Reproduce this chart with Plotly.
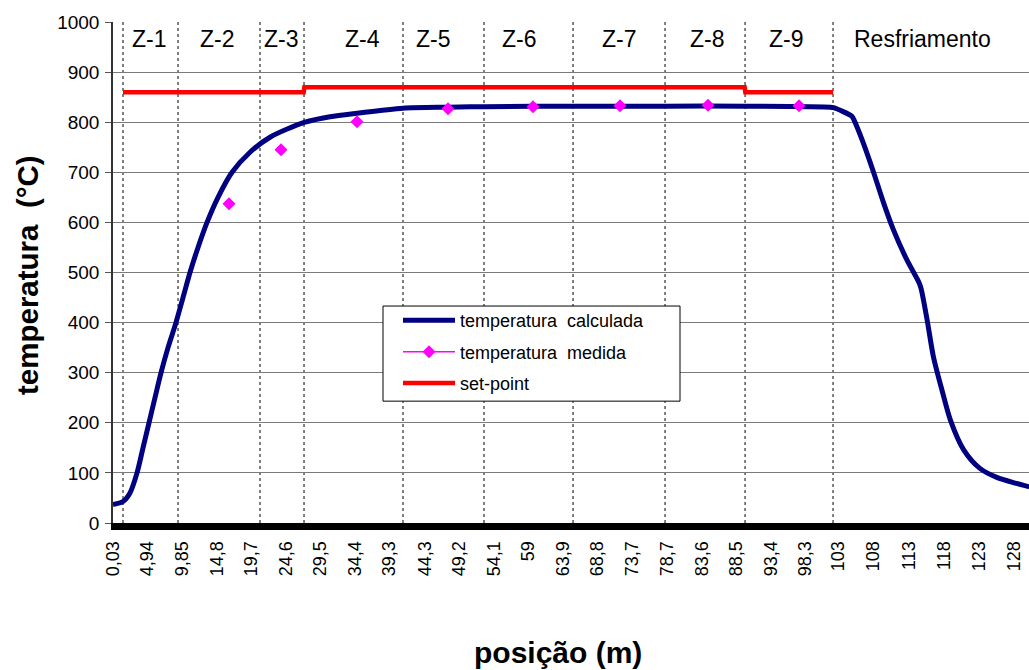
import plotly.graph_objects as go

# ---------------- data ----------------
# calculated temperature profile (position m, temperature °C)
calc_pos = [0.03, 1.45, 2.44, 3.44, 4.29, 5.14, 5.99, 6.85, 7.84, 8.97, 9.97, 10.96,
            12.10, 13.38, 14.94, 16.93, 19.48, 22.32, 27.29, 30.84, 34.67, 41.2,
            47.6, 52.7, 65.3, 78.4, 89.8, 101.9, 102.3, 104.9, 105.3, 106.5, 108.0,
            109.4, 110.8, 112.7, 114.45, 114.75, 115.6, 116.5, 117.7, 118.9, 120.8,
            123.1, 125.5, 128.3, 130.1]
calc_temp = [37, 43, 60, 100, 150, 200, 250, 300, 350, 400, 450, 500,
             550, 600, 650, 700, 740, 770, 800, 811, 818, 828,
             830, 831, 832, 832, 832, 830, 829, 812, 802, 760, 700,
             640, 586, 526, 480, 468, 406, 332, 266, 206, 146,
             109, 91, 79, 72]

# measured temperature
meas_pos = [16.5, 23.88, 34.67, 47.59, 59.66, 72.01, 84.5, 97.42]
meas_temp = [637, 745, 801, 827, 831, 833, 834, 833]

# set-point
sp_pos = [1.45, 27.1, 27.2, 89.7, 89.8, 102.25]
sp_temp = [860, 860, 870, 870, 860, 860]

# zones
zone_bounds = [1.45, 9.26, 20.9, 27.15, 41.2, 52.7, 65.34, 78.4, 89.76, 102.25]
zone_names = ["Z-1", "Z-2", "Z-3", "Z-4", "Z-5", "Z-6", "Z-7", "Z-8", "Z-9", "Resfriamento"]
zone_label_pos = [5.28, 14.8, 24.0, 35.4, 45.6, 57.8, 72.0, 84.4, 95.7, 114.9]

# x tick labels
x_tick_labels = ["0,03", "4,94", "9,85", "14,8", "19,7", "24,6", "29,5", "34,4", "39,3",
                 "44,3", "49,2", "54,1", "59", "63,9", "68,8", "73,7", "78,7", "83,6",
                 "88,5", "93,4", "98,3", "103", "108", "113", "118", "123", "128"]
x_tick_vals = [float(s.replace(",", ".")) for s in x_tick_labels]

y_ticks = list(range(0, 1001, 100))

FONT = "Liberation Sans, Arial, sans-serif"
NAVY = "#000080"
MAG = "#FF00FF"
RED = "#FF0000"

fig = go.Figure()

fig.add_trace(go.Scatter(x=calc_pos, y=calc_temp, mode="lines",
                         line=dict(color=NAVY, width=5, shape="spline", smoothing=0.8),
                         name="temperatura  calculada", legendrank=1,
                         legendgroup="a"))
fig.add_trace(go.Scatter(x=sp_pos, y=sp_temp, mode="lines",
                         line=dict(color=RED, width=4.5),
                         name="set-point", legendrank=3, legendgroup="c"))
fig.add_trace(go.Scatter(x=meas_pos, y=meas_temp, mode="markers",
                         marker=dict(symbol="diamond", color=MAG, size=10,
                                     line=dict(width=0)),
                         name="temperatura  medida", showlegend=False,
                         legendgroup="b"))
# legend entry for measured series (line + diamond as in the original legend)
fig.add_trace(go.Scatter(x=[None], y=[None], mode="lines+markers",
                         line=dict(color=MAG, width=1.5),
                         marker=dict(symbol="diamond", color=MAG, size=10),
                         name="temperatura  medida", legendrank=2,
                         legendgroup="b"))

shapes = []
for b in zone_bounds:
    shapes.append(dict(type="line", xref="x", yref="paper", x0=b, x1=b, y0=0, y1=1,
                       line=dict(color="black", width=1, dash="dot"), layer="below"))

# legend box
L, T, R, B = 383, 306, 680, 401
def px2paper_x(px):
    return (px - 113) / 916.0
def px2paper_y(py):
    return (522.7 - py) / 500.4
shapes.append(dict(type="rect", xref="paper", yref="paper",
                   x0=px2paper_x(L), x1=px2paper_x(R), y0=px2paper_y(B), y1=px2paper_y(T),
                   fillcolor="white", line=dict(color="black", width=1), layer="above"))

annotations = []
for name, pos in zip(zone_names, zone_label_pos):
    annotations.append(dict(x=pos, y=967, xref="x", yref="y", text=name, showarrow=False,
                            font=dict(family=FONT, size=23, color="black"),
                            xanchor="center", yanchor="middle"))
annotations.append(dict(x=px2paper_x(558), y=px2paper_y(652), xref="paper", yref="paper",
                        text="<b>posição (m)</b>", showarrow=False,
                        font=dict(family=FONT, size=30, color="black"),
                        xanchor="center", yanchor="middle"))
annotations.append(dict(x=px2paper_x(27), y=px2paper_y(275), xref="paper", yref="paper",
                        text="<b>temperatura  (°C)</b>", showarrow=False, textangle=-90,
                        font=dict(family=FONT, size=29.5, color="black"),
                        xanchor="center", yanchor="middle"))

fig.update_layout(
    width=1029, height=670,
    margin=dict(l=113, r=0, t=22, b=147, pad=0),
    paper_bgcolor="white", plot_bgcolor="white",
    font=dict(family=FONT, color="black"),
    shapes=shapes, annotations=annotations,
    showlegend=True,
    legend=dict(x=px2paper_x(398), y=px2paper_y(302), xanchor="left", yanchor="top",
                bgcolor="rgba(0,0,0,0)", borderwidth=0,
                font=dict(family=FONT, size=18, color="black"),
                tracegroupgap=5, traceorder="grouped", itemwidth=52),
)

fig.update_xaxes(range=[0.03, 130.07], tickmode="array", tickvals=x_tick_vals,
                 ticktext=x_tick_labels, tickangle=-90, showgrid=False, zeroline=False,
                 showline=True, linecolor="black", linewidth=7, ticks="",
                 ticklabelstandoff=4,
                 tickfont=dict(family=FONT, size=18, color="black"))
fig.update_yaxes(range=[0, 1000], tickmode="array", tickvals=y_ticks,
                 showgrid=True, gridcolor="#7a7a7a", gridwidth=1.3, zeroline=False,
                 showline=True, linecolor="#333333", linewidth=1.5,
                 ticks="outside", ticklen=6, tickcolor="#555555", tickwidth=1,
                 ticklabelstandoff=2,
                 tickfont=dict(family=FONT, size=19, color="black"))

fig.write_html("out.html")
